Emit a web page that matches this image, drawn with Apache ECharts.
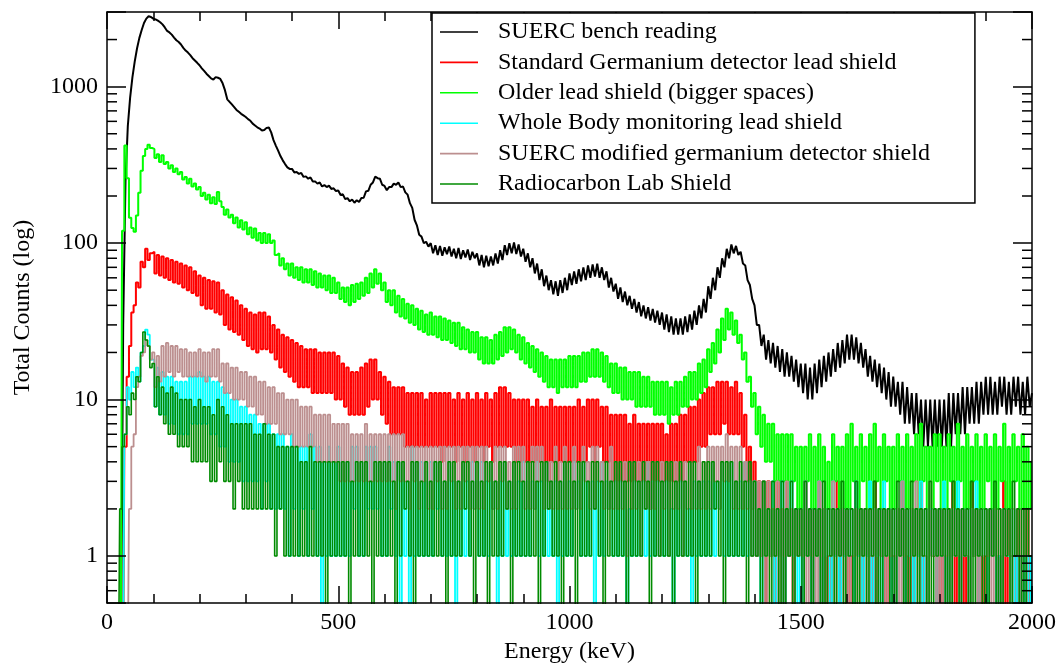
<!DOCTYPE html>
<html><head><meta charset="utf-8">
<script src="https://cdn.jsdelivr.net/npm/echarts@6/dist/echarts.min.js"></script>
<style>html,body{margin:0;padding:0;background:#fff}#c{width:1064px;height:669px}</style>
</head><body><div id="c"></div>
<script>
// Energy of each channel group (keV), 5 keV bins
const energies = [
0,5,10,15,20,25,30,35,40,45,50,55,60,65,70,75,80,85,90,95,
100,105,110,115,120,125,130,135,140,145,150,155,160,165,170,175,180,185,190,195,
200,205,210,215,220,225,230,235,240,245,250,255,260,265,270,275,280,285,290,295,
300,305,310,315,320,325,330,335,340,345,350,355,360,365,370,375,380,385,390,395,
400,405,410,415,420,425,430,435,440,445,450,455,460,465,470,475,480,485,490,495,
500,505,510,515,520,525,530,535,540,545,550,555,560,565,570,575,580,585,590,595,
600,605,610,615,620,625,630,635,640,645,650,655,660,665,670,675,680,685,690,695,
700,705,710,715,720,725,730,735,740,745,750,755,760,765,770,775,780,785,790,795,
800,805,810,815,820,825,830,835,840,845,850,855,860,865,870,875,880,885,890,895,
900,905,910,915,920,925,930,935,940,945,950,955,960,965,970,975,980,985,990,995,
1000,1005,1010,1015,1020,1025,1030,1035,1040,1045,1050,1055,1060,1065,1070,1075,1080,1085,1090,1095,
1100,1105,1110,1115,1120,1125,1130,1135,1140,1145,1150,1155,1160,1165,1170,1175,1180,1185,1190,1195,
1200,1205,1210,1215,1220,1225,1230,1235,1240,1245,1250,1255,1260,1265,1270,1275,1280,1285,1290,1295,
1300,1305,1310,1315,1320,1325,1330,1335,1340,1345,1350,1355,1360,1365,1370,1375,1380,1385,1390,1395,
1400,1405,1410,1415,1420,1425,1430,1435,1440,1445,1450,1455,1460,1465,1470,1475,1480,1485,1490,1495,
1500,1505,1510,1515,1520,1525,1530,1535,1540,1545,1550,1555,1560,1565,1570,1575,1580,1585,1590,1595,
1600,1605,1610,1615,1620,1625,1630,1635,1640,1645,1650,1655,1660,1665,1670,1675,1680,1685,1690,1695,
1700,1705,1710,1715,1720,1725,1730,1735,1740,1745,1750,1755,1760,1765,1770,1775,1780,1785,1790,1795,
1800,1805,1810,1815,1820,1825,1830,1835,1840,1845,1850,1855,1860,1865,1870,1875,1880,1885,1890,1895,
1900,1905,1910,1915,1920,1925,1930,1935,1940,1945,1950,1955,1960,1965,1970,1975,1980,1985,1990,1995,
2000];

const seriesNames = [
  'SUERC bench reading',
  'Standard Germanium detector lead shield',
  'Older lead shield (bigger spaces)',
  'Whole Body monitoring lead shield',
  'SUERC modified germanium detector shield',
  'Radiocarbon Lab Shield'
];

const bench = [
0,0,0,0,0,0,0,30,250,560,850,1150,1450,1760,2050,2300,2550,2720,2820,2790,
2720,2690,2640,2580,2500,2390,2270,2220,2150,2060,1980,1930,1860,1770,1700,1650,1590,1520,1470,1420,
1370,1310,1260,1210,1170,1130,1110,1150,1140,1120,1050,950,830,800,770,740,710,690,670,655,
640,620,605,580,565,550,540,525,528,545,548,510,455,420,390,360,338,320,305,298,
298,283,285,277,281,265,267,258,263,248,248,240,244,230,235,228,233,222,224,215,
217,203,205,191,194,185,190,181,188,183,194,195,214,216,236,244,266,260,258,236,
232,218,228,228,240,236,244,228,230,211,204,180,168,141,130,113,110,100,102,95,
100,86,97,84,96,83,94,85,95,82,92,80,93,79,90,81,91,78,88,80,
86,72,84,70,83,71,82,72,86,74,90,78,97,84,100,86,101,85,98,82,
92,76,86,70,80,64,74,58,68,53,62,50,58,47,57,46,58,48,60,50,
64,54,66,55,68,57,70,58,72,60,73,61,74,60,70,58,66,52,60,49,
55,44,52,42,49,40,46,38,44,36,42,34,40,33,39,32,38,31,37,30,
36,28,35,27,34,26,33,26,33,26,34,27,35,28,37,30,40,33,44,36,
53,44,60,50,70,60,80,70,92,80,98,86,96,84,88,74,72,58,54,44,
40,30,30,22,26,18,24,17,23,16,22,15,21,14,20,14,19,13,18,12,
17,11,17,10,16,10,17,11,18,12,19,13,20,14,21,15,23,16,24,17,
26,18,26,18,25,17,23,16,21,14,19,13,18,12,17,11,16,10,15,9,
14,9,13,8,13,7,12,7,11,6,11,6,10,5,10,5,10,5,10,5,
10,5,10,5,11,5,11,6,11,6,12,6,12,7,12,7,13,7,13,8,
14,8,14,8,13,8,14,9,14,8,13,8,14,9,14,8,13,8,14,9,
11];

const standardGe = [
0,0,0,0,0,0,0,0,5,14,22,36,40,56,52,76,70,92,78,86,
88,64,84,62,82,60,80,58,78,56,76,55,74,52,72,50,70,48,66,46,
62,40,60,38,58,38,57,36,56,35,50,30,47,28,45,27,43,26,40,24,
38,22,36,21,35,20,36,21,36,21,34,20,30,18,28,16,26,15,25,14,
24,13,23,12,22,12,21,12,21,11,21,11,20,11,20,11,20,11,20,10,
19,10,17,9,16,8,15,8,15,8,16,8,17,9,18,10,18,10,15,8,
14,7,13,6,12,6,12,6,12,5,11,5,11,5,11,5,11,5,10,5,
11,5,11,5,11,4,11,5,11,5,10,4,11,5,10,4,11,5,10,4,
11,5,10,4,11,5,10,4,11,5,12,5,12,5,11,5,10,4,10,4,
10,4,10,4,9,4,10,4,9,4,9,3,10,4,9,3,9,4,9,4,
9,4,9,4,10,4,9,4,10,5,10,4,10,5,9,4,9,4,8,3,
8,3,8,3,8,3,7,3,8,3,7,3,7,3,7,2,7,3,7,3,
7,3,6,3,7,3,7,3,8,3,8,4,9,4,9,4,10,5,11,5,
12,6,12,6,13,6,13,7,13,6,12,6,13,6,11,5,8,3,5,2,
4,1,3,1,3,0,3,1,2,0,3,1,2,0,3,1,2,0,2,1,
2,0,3,1,2,0,2,1,3,0,2,0,1,0,2,1,3,0,2,1,
2,0,1,0,3,1,2,0,2,1,1,0,3,0,2,1,1,0,2,0,
1,0,2,1,3,0,1,0,2,0,2,1,3,0,1,0,2,1,1,0,
2,0,1,0,2,1,3,0,1,0,2,0,1,0,3,1,2,0,1,0,
1,0,2,1,2,0,1,0,3,0,2,1,1,0,2,0,1,0,2,0,
1];

const olderLead = [
0,0,0,0,0,0,0,120,420,260,145,125,118,150,210,290,360,400,425,405,
400,350,370,330,365,320,330,300,315,285,300,275,285,255,265,240,258,230,240,220,
228,200,210,190,204,180,196,178,212,185,170,152,164,146,152,134,146,126,140,122,
136,114,126,108,124,104,116,100,116,100,114,100,104,84,86,72,80,68,74,62,
74,60,70,58,70,56,68,56,68,54,66,52,64,52,62,50,62,48,60,48,
56,44,52,42,52,40,54,42,55,44,56,46,60,48,64,52,68,55,64,50,
56,42,50,40,50,36,46,34,44,33,41,31,40,30,38,28,37,27,35,26,
36,26,34,25,34,24,33,24,32,23,31,22,31,21,29,21,28,20,27,20,
27,18,25,17,25,17,24,17,26,18,27,19,29,20,29,21,28,20,26,18,
25,17,23,16,22,15,21,14,20,13,19,12,18,12,18,11,18,12,18,12,
19,12,19,12,19,13,20,13,20,14,21,14,21,14,20,13,19,12,17,11,
17,11,16,10,16,10,15,10,15,9,15,9,14,9,14,9,13,8,13,8,
13,8,13,7,12,8,13,8,13,9,14,9,15,10,15,10,17,11,18,12,
21,15,23,17,28,20,33,24,38,28,36,26,32,23,26,18,20,13,14,9,
11,6,9,5,8,4,7,4,7,3,6,3,6,3,6,2,6,3,5,2,
5,2,5,3,6,2,5,2,6,3,5,2,4,2,6,3,5,2,5,2,
6,2,7,3,5,2,6,3,5,2,6,2,7,3,5,2,6,3,5,2,
5,2,6,3,5,2,6,2,5,3,6,2,7,3,5,2,5,2,6,3,
6,2,5,2,6,3,5,2,7,3,5,2,6,2,5,3,6,2,5,2,
6,3,5,2,6,2,5,3,7,2,5,2,6,3,5,2,6,2,5,2,
4];

const wholeBody = [
0,0,0,0,0,0,0,0,6,12,10,15,12,16,13,20,22,28,26,18,
18,9,16,8,15,8,14,7,14,7,13,6,13,6,13,6,14,7,14,7,
15,7,14,7,14,6,13,6,13,5,12,5,11,4,10,4,10,4,9,3,
9,3,8,3,8,3,7,2,7,3,7,2,6,2,6,2,6,2,5,1,
6,2,5,1,5,2,5,1,6,2,5,1,5,0,4,1,5,1,4,1,
5,1,4,1,4,1,5,2,5,1,4,1,5,2,5,2,5,2,4,1,
4,1,5,2,4,1,4,0,4,1,3,0,5,1,4,1,4,1,3,1,
4,1,4,2,4,1,3,1,4,1,3,0,3,1,4,1,3,1,4,2,
3,1,4,1,3,1,4,2,3,0,3,1,4,1,3,1,4,1,3,1,
4,1,3,1,3,2,4,1,3,1,4,1,3,1,3,0,3,1,4,1,
3,1,4,2,3,1,4,1,3,1,3,0,3,1,4,1,3,2,3,1,
3,1,3,1,3,0,2,1,3,1,3,1,3,1,4,1,3,1,3,1,
3,1,3,1,2,0,3,1,3,1,3,1,2,0,3,1,3,1,3,1,
3,1,4,1,3,2,4,1,3,1,4,1,3,1,3,1,4,1,3,1,
3,1,2,0,3,1,2,1,3,0,2,1,3,0,2,1,3,1,2,0,
2,0,3,1,2,0,2,1,3,0,2,1,2,0,3,1,2,0,2,1,
2,1,2,0,3,1,2,0,2,1,3,0,2,1,2,0,3,1,2,0,
2,0,2,1,3,0,2,1,2,0,2,1,3,0,2,0,2,1,2,0,
2,1,3,0,2,0,2,1,3,0,2,1,2,0,2,1,3,0,2,1,
2,0,2,1,2,0,1,0,2,1,1,0,2,0,1,0,1,0,1,0,
1];

const suercModified = [
0,0,0,0,0,0,0,0,0,0,2,5,6,12,14,19,20,24,22,18,
20,12,19,13,22,14,23,15,22,14,22,15,21,14,21,14,20,14,20,14,
21,14,20,13,20,14,21,14,21,13,17,11,17,11,16,10,16,10,15,10,
15,9,14,9,14,8,13,8,13,7,12,7,12,7,11,6,11,6,10,6,
10,5,10,5,9,5,9,5,9,5,8,4,8,4,8,4,8,4,7,4,
7,3,7,3,7,3,6,3,6,3,6,3,7,3,6,3,6,3,6,3,
6,3,6,3,6,2,6,3,6,3,5,2,5,3,5,2,5,3,5,2,
5,2,5,3,5,2,5,2,5,3,5,2,5,2,5,3,5,2,5,2,
5,2,5,2,5,3,4,2,5,2,5,3,5,2,4,2,5,2,5,3,
5,2,4,2,5,2,5,3,5,2,4,2,4,2,5,2,4,2,5,2,
4,2,5,2,4,2,5,3,4,2,5,2,5,3,4,2,4,2,5,2,
4,2,4,2,4,1,4,2,4,2,4,1,4,2,4,2,4,2,4,1,
4,2,4,1,4,2,4,2,4,1,4,2,4,2,4,2,5,2,4,2,
5,2,5,3,5,2,5,3,6,3,5,2,5,2,5,2,4,2,3,1,
3,1,3,1,3,0,3,1,2,1,3,0,2,1,3,1,2,0,2,1,
2,1,3,0,2,1,2,0,3,1,2,0,2,1,3,0,2,1,2,0,
2,0,2,1,2,0,2,1,2,0,2,1,2,0,2,1,2,0,2,1,
2,1,2,0,3,1,2,0,2,1,3,0,2,1,2,0,3,1,2,0,
2,0,2,1,2,0,2,1,2,0,2,1,2,0,2,1,2,0,2,1,
2,1,2,0,2,1,2,0,2,1,2,0,2,1,2,0,2,1,2,1,
1];

const radiocarbonLab = [
0,0,0,0,0,0,2,5,6,9,8,11,10,14,13,20,27,24,22,16,
17,9,14,8,12,7,11,6,12,6,11,5,10,5,10,5,10,4,9,4,
10,4,9,4,9,3,8,3,10,4,9,3,8,3,7,2,7,3,7,2,
7,2,7,2,6,2,6,2,7,2,6,2,6,1,5,2,5,1,5,1,
5,1,5,1,4,1,4,1,5,1,4,1,4,1,4,0,4,1,4,1,
4,1,4,1,4,0,3,1,4,1,4,1,4,1,3,0,4,1,4,1,
4,1,4,1,3,0,4,1,4,2,3,1,4,0,4,1,3,1,4,1,
3,1,4,1,4,1,3,0,4,1,4,1,3,1,4,2,4,1,3,0,
4,1,3,1,4,0,4,1,3,1,4,1,4,2,3,0,4,1,4,1,
3,1,4,1,4,1,3,0,4,1,4,2,3,1,4,1,3,0,4,1,
4,1,3,0,4,1,4,1,3,1,4,2,4,1,3,0,4,1,3,1,
4,1,4,1,3,0,4,1,4,1,3,1,4,2,3,0,4,1,4,1,
3,1,4,1,4,0,3,1,4,1,3,1,4,1,4,0,3,1,4,1,
4,1,4,2,3,1,4,0,4,1,4,1,3,1,4,1,3,0,4,1,
3,1,2,0,3,1,2,0,3,1,2,0,3,0,2,1,3,0,2,1,
2,0,3,1,2,0,2,1,2,0,3,0,2,1,2,0,2,1,3,0,
2,1,2,0,3,0,2,1,2,0,2,1,3,0,2,0,2,1,2,0,
2,0,3,1,2,0,2,0,3,1,2,0,2,1,2,0,3,0,2,1,
2,1,2,0,2,0,3,1,2,0,2,1,2,0,3,0,2,1,2,0,
2,0,2,1,3,0,2,0,2,1,2,0,3,1,2,0,2,0,2,1,
1];

const xTicks = [0, 500, 1000, 1500, 2000];
const yMajorTicks = [1, 10, 100, 1000];
const yMinorTicks = [0.6,0.7,0.8,0.9,2,3,4,5,6,7,8,9,20,30,40,50,60,70,80,90,200,300,400,500,600,700,800,900,2000];

const allValues = [bench, standardGe, olderLead, wholeBody, suercModified, radiocarbonLab];
const colors = ['#000000', '#ff0000', '#00ff00', '#00ffff', '#bc8f8f', '#008b00'];
const widths = [2.0, 2.0, 2.0, 1.8, 1.8, 1.6];
const FONT = 'Liberation Serif';
const ZERO_DRAW = 0.2; // zero counts drawn below the axis floor (clipped)

const chart = echarts.init(document.getElementById('c'), null, {renderer: 'canvas'});

const lineSeries = allValues.map((vals, k) => ({
  name: seriesNames[k],
  type: 'line',
  data: energies.map((e, i) => [e, vals[i] > 0 ? vals[i] : ZERO_DRAW]),
  symbol: 'none',
  showSymbol: false,
  step: k === 0 ? false : 'middle',
  clip: true,
  lineStyle: {color: colors[k], width: widths[k]},
  itemStyle: {color: colors[k]},
  emphasis: {disabled: true},
  animation: false
}));

const axisCommonX = {
  type: 'value', min: xTicks[0], max: xTicks[xTicks.length - 1], interval: 500,
  z: 10,
  axisLine: {show: true, onZero: false, lineStyle: {color: '#000', width: 1.5}},
  axisTick: {show: true, inside: true, length: 17, lineStyle: {color: '#000', width: 1.5}},
  minorTick: {show: true, splitNumber: 5, length: 9, lineStyle: {color: '#000', width: 1.5}},
  splitLine: {show: false}, minorSplitLine: {show: false}
};
const isPow10 = v => { const l = Math.log10(v); return Math.abs(l - Math.round(l)) < 1e-9; };
const axisCommonY = {
  type: 'log', logBase: 10, min: 0.5, max: 3000,
  z: 10,
  axisLine: {show: true, onZero: false, lineStyle: {color: '#000', width: 1.5}},
  axisTick: {show: true, inside: true, length: 19, lineStyle: {color: '#000', width: 1.5}},
  minorTick: {show: false},
  splitLine: {show: false}
};

chart.setOption({
  backgroundColor: '#fff',
  animation: false,
  grid: {left: 107, top: 12, width: 925, height: 600, containLabel: false},
  xAxis: [
    Object.assign({}, axisCommonX, {
      position: 'bottom',
      name: 'Energy (keV)', nameLocation: 'middle', nameGap: 31,
      nameTextStyle: {fontFamily: FONT, fontSize: 24, color: '#000'},
      axisLabel: {show: true, margin: 8, fontFamily: FONT, fontSize: 24, color: '#000',
        formatter: v => xTicks.indexOf(v) >= 0 ? String(v) : ''}
    }),
    Object.assign({}, axisCommonX, {position: 'top', axisLabel: {show: false}})
  ],
  yAxis: [
    Object.assign({}, axisCommonY, {
      position: 'left',
      name: 'Total Counts (log)', nameLocation: 'middle', nameGap: 72, nameRotate: 90,
      nameTextStyle: {fontFamily: FONT, fontSize: 24, color: '#000'},
      axisLabel: {show: true, margin: 9, fontFamily: FONT, fontSize: 24, color: '#000',
        formatter: v => (isPow10(v) && yMajorTicks.indexOf(Math.round(v)) >= 0) ? String(Math.round(v)) : ''}
    }),
    Object.assign({}, axisCommonY, {position: 'right', axisLabel: {show: false}})
  ],
  legend: {
    data: seriesNames.map(n => ({name: n, icon: 'rect'})),
    orient: 'vertical', left: 432, top: 13,
    padding: [7, 45, 7, 8], itemGap: 6.4, itemWidth: 38, itemHeight: 1.6,
    backgroundColor: '#fff', borderColor: '#000', borderWidth: 1.5, borderRadius: 0,
    selectedMode: false,
    textStyle: {fontFamily: FONT, fontSize: 24, color: '#000', padding: [0, 0, 0, 15]},
    z: 20
  },
  series: lineSeries.concat([{
    type: 'custom', name: 'yMinorTicks', silent: true, z: 12,
    xAxisIndex: 0, yAxisIndex: 0,
    data: yMinorTicks.map(v => [0, v]),
    renderItem: (params, api) => {
      const y = api.coord([0, api.value(1)])[1];
      const cs = params.coordSys;
      const st = {stroke: '#000', lineWidth: 1.5};
      return {type: 'group', children: [
        {type: 'line', shape: {x1: cs.x, y1: y, x2: cs.x + 10, y2: y}, style: st},
        {type: 'line', shape: {x1: cs.x + cs.width - 10, y1: y, x2: cs.x + cs.width, y2: y}, style: st}
      ]};
    },
    animation: false
  }])
});
</script></body></html>
